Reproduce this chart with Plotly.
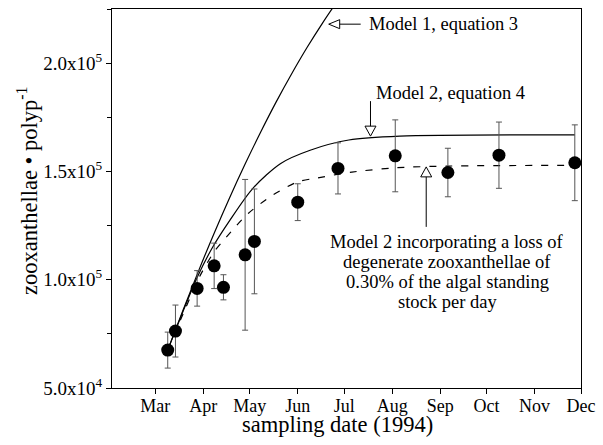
import plotly.graph_objects as go

# observed data
sample_dates = ['1994-03-09', '1994-03-14', '1994-03-28', '1994-04-08', '1994-04-14',
                '1994-04-28', '1994-05-04', '1994-06-01', '1994-06-27', '1994-08-03',
                '1994-09-06', '1994-10-09', '1994-11-27']
sample_values = [67500, 76300, 96000, 106400, 96500, 111500, 117700, 135800,
                 151400, 157200, 149500, 157500, 154000]
sample_errors = [8300, 12000, 8200, 10500, 5800, 34800, 24200, 8500,
                 11800, 16600, 11200, 15300, 17500]

# model curves
model1_dates = ['1994-03-09', '1994-03-19', '1994-03-29', '1994-04-08', '1994-04-18',
                '1994-04-28', '1994-05-08', '1994-05-18', '1994-05-28', '1994-06-07',
                '1994-06-17', '1994-06-27']
model1_values = [67500, 86100, 104200, 121500, 137900, 153400, 168100, 182000,
                 195000, 207200, 218500, 229100]

model2_dates = ['1994-03-09', '1994-03-28', '1994-04-07', '1994-04-18', '1994-05-03',
                '1994-05-21', '1994-06-09', '1994-07-04', '1994-08-06', '1994-11-27']
model2_values = [67500, 101000, 115000, 127300, 142200, 153700, 159800, 164500, 166300, 166900]

model2loss_dates = ['1994-03-09', '1994-03-20', '1994-03-30', '1994-04-08', '1994-04-16',
                    '1994-04-30', '1994-05-16', '1994-06-01', '1994-06-13', '1994-07-06',
                    '1994-08-04', '1994-09-08', '1994-11-27']
model2loss_values = [67500, 86000, 102000, 112900, 119800, 130600, 139100, 145200,
                     146900, 149700, 151700, 152500, 152800]

month_ticks = ['1994-03-01', '1994-04-01', '1994-05-01', '1994-06-01', '1994-07-01',
               '1994-08-01', '1994-09-01', '1994-10-01', '1994-11-01', '1994-12-01']
month_labels = ['Mar', 'Apr', 'May', 'Jun', 'Jul', 'Aug', 'Sep', 'Oct', 'Nov', 'Dec']

y_tickvals = [50000, 100000, 150000, 200000]
y_ticktext = ['5.0x10<sup>4</sup>', '1.0x10<sup>5</sup>', '1.5x10<sup>5</sup>', '2.0x10<sup>5</sup>']

FONT = 'Liberation Serif'

fig = go.Figure()
fig.add_trace(go.Scatter(x=model1_dates, y=model1_values, mode='lines',
                         line=dict(color='black', width=1.2, shape='spline', smoothing=1),
                         showlegend=False, hoverinfo='skip'))
fig.add_trace(go.Scatter(x=model2_dates, y=model2_values, mode='lines',
                         line=dict(color='black', width=1.2, shape='spline', smoothing=0.8),
                         showlegend=False, hoverinfo='skip'))
fig.add_trace(go.Scatter(x=model2loss_dates, y=model2loss_values, mode='lines',
                         line=dict(color='black', width=1.2, shape='spline', smoothing=0.8,
                                   dash='7px,9px'),
                         showlegend=False, hoverinfo='skip'))
fig.add_trace(go.Scatter(x=sample_dates, y=sample_values, mode='markers',
                         marker=dict(color='black', size=13),
                         error_y=dict(type='data', array=sample_errors, visible=True,
                                      color='#555555', thickness=1, width=3),
                         showlegend=False))

# hollow arrowheads with stems
fig.add_shape(type='path', xref='x', yref='y', xsizemode='pixel', ysizemode='pixel',
              xanchor='1994-06-21', yanchor=218000,
              path='M0,0 L11,4.5 L11,-4.5 Z M11,0 L32,0',
              line=dict(color='black', width=1))
fig.add_shape(type='path', xref='x', yref='y', xsizemode='pixel', ysizemode='pixel',
              xanchor='1994-07-18', yanchor=166300,
              path='M0,0 L-5.5,10 L5.5,10 Z M0,10 L0,35',
              line=dict(color='black', width=1))
fig.add_shape(type='path', xref='x', yref='y', xsizemode='pixel', ysizemode='pixel',
              xanchor='1994-08-23', yanchor=152100,
              path='M0,0 L-5.5,-10 L5.5,-10 Z M0,-10 L0,-60',
              line=dict(color='black', width=1))

ann_font = dict(family=FONT, size=18.5, color='black')
annotations = [
    dict(text='Model 1, equation 3', x=0.5437, y=0.9604, xanchor='left', yanchor='middle'),
    dict(text='Model 2, equation 4', x=0.7207, y=0.7784, xanchor='center', yanchor='middle'),
    dict(text='Model 2 incorporating a loss of', x=0.7143, y=0.3852, xanchor='center', yanchor='middle'),
    dict(text='degenerate zooxanthellae of', x=0.7143, y=0.3325, xanchor='center', yanchor='middle'),
    dict(text='0.30% of the algal standing', x=0.7143, y=0.2797, xanchor='center', yanchor='middle'),
    dict(text='stock per day', x=0.7143, y=0.2269, xanchor='center', yanchor='middle'),
]
for a in annotations:
    a.update(xref='paper', yref='paper', showarrow=False, font=ann_font)
    fig.add_annotation(**a)

fig.add_annotation(text='sampling date (1994)', xref='paper', yref='paper',
                   x=0.4808, y=-0.097, xanchor='center', yanchor='middle', showarrow=False,
                   font=dict(family=FONT, size=22.5, color='black'))
fig.add_annotation(text='zooxanthellae • polyp<sup>-1</sup>', xref='paper', yref='paper',
                   x=-0.181, y=0.52, xanchor='center', yanchor='middle', showarrow=False,
                   textangle=-90, font=dict(family=FONT, size=22.5, color='black'))

fig.update_layout(
    width=603, height=445,
    margin=dict(l=112, r=22, t=9, b=57),
    paper_bgcolor='white', plot_bgcolor='white',
    font=dict(family=FONT, color='black'),
    showlegend=False,
)
fig.update_xaxes(type='date', range=['1994-02-01', '1994-12-01'],
                 tickmode='array', tickvals=month_ticks, ticktext=month_labels,
                 ticks='outside', ticklen=5, tickcolor='black', tickwidth=1,
                 ticklabelstandoff=-4,
                 tickfont=dict(family=FONT, size=18, color='black'),
                 showgrid=False, zeroline=False,
                 showline=True, linecolor='black', linewidth=1, mirror=True)
fig.update_yaxes(range=[50000, 225000],
                 tickmode='array', tickvals=y_tickvals, ticktext=y_ticktext,
                 ticks='outside', ticklen=5, tickcolor='black', tickwidth=1,
                 tickfont=dict(family=FONT, size=19, color='black'),
                 minor=dict(dtick=25000, tick0=50000, ticks='outside', ticklen=4,
                            tickcolor='black', showgrid=False),
                 showgrid=False, zeroline=False,
                 showline=True, linecolor='black', linewidth=1, mirror=True)

fig.write_html('out.html')
